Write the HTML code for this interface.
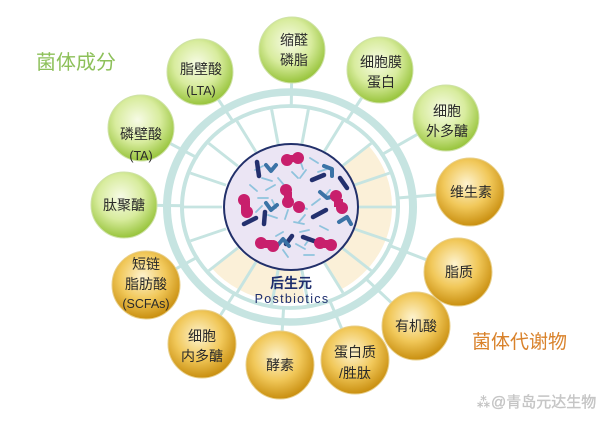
<!DOCTYPE html>
<html><head><meta charset="utf-8"><style>
html,body{margin:0;padding:0;background:#fff;}
svg{display:block;}
text{font-family:"Liberation Sans","Noto Sans CJK SC",sans-serif;}
</style></head><body>
<svg width="600" height="422" viewBox="0 0 600 422" xmlns="http://www.w3.org/2000/svg">
<defs>
<radialGradient id="gg" cx="45%" cy="38%" r="62%">
<stop offset="0" stop-color="#f7fbe6"/><stop offset="0.55" stop-color="#d8ec9e"/><stop offset="1" stop-color="#98c43c"/>
</radialGradient>
<radialGradient id="og" cx="45%" cy="38%" r="62%">
<stop offset="0" stop-color="#fdf3cf"/><stop offset="0.55" stop-color="#f1c85a"/><stop offset="1" stop-color="#c98f10"/>
</radialGradient>
</defs>
<rect width="600" height="422" fill="#fff"/>
<g stroke="#c6e4e1" stroke-width="3">
<line x1="290" y1="207" x2="292" y2="50"/>
<line x1="290" y1="207" x2="200" y2="72"/>
<line x1="290" y1="207" x2="380" y2="70"/>
<line x1="290" y1="207" x2="446" y2="118"/>
<line x1="290" y1="207" x2="141" y2="128"/>
<line x1="290" y1="207" x2="124" y2="205"/>
<line x1="290" y1="207" x2="470" y2="192"/>
<line x1="290" y1="207" x2="458" y2="272"/>
<line x1="290" y1="207" x2="416" y2="326"/>
<line x1="290" y1="207" x2="355" y2="360"/>
<line x1="290" y1="207" x2="280" y2="365"/>
<line x1="290" y1="207" x2="202" y2="344"/>
<line x1="290" y1="207" x2="146" y2="285"/>
</g>
<g transform="translate(290,207) scale(1,0.935)">
<circle r="106" fill="#fff"/>
<circle r="108" fill="none" stroke="#c6e4e1" stroke-width="4"/>
<circle r="123" fill="none" stroke="#c6e4e1" stroke-width="8"/>
<g fill="#fbf0d8">
<path d="M78.4,-65.8 A102,102 0 0 1 102,0 L68,0 A68,68 0 0 0 52.1,-43.7Z"/>
<path d="M102,0 A102,102 0 0 1 51,88.3 L34,58.9 A68,68 0 0 0 68,0Z"/>
<path d="M-17.7,100.5 A102,102 0 0 1 -78.1,65.6 L-52.1,43.7 A68,68 0 0 0 -11.8,67Z"/>
<path d="M-17.7,100.5 A102,102 0 0 0 15,100.9 L10,67.3 A68,68 0 0 0 -11.8,67Z"/>
</g>
<g stroke="#c6e4e1" stroke-width="3">
<line x1="68" y1="0" x2="106" y2="0"/>
<line x1="63.9" y1="23.3" x2="99.6" y2="36.3"/>
<line x1="52.1" y1="43.7" x2="81.2" y2="68.1"/>
<line x1="34" y1="58.9" x2="53" y2="91.8"/>
<line x1="11.8" y1="67" x2="18.4" y2="104.4"/>
<line x1="-11.8" y1="67" x2="-18.4" y2="104.4"/>
<line x1="-34" y1="58.9" x2="-53" y2="91.8"/>
<line x1="-52.1" y1="43.7" x2="-81.2" y2="68.1"/>
<line x1="-63.9" y1="23.3" x2="-99.6" y2="36.3"/>
<line x1="-68" y1="0" x2="-106" y2="0"/>
<line x1="-63.9" y1="-23.3" x2="-99.6" y2="-36.3"/>
<line x1="-52.1" y1="-43.7" x2="-81.2" y2="-68.1"/>
<line x1="-34" y1="-58.9" x2="-53" y2="-91.8"/>
<line x1="-11.8" y1="-67" x2="-18.4" y2="-104.4"/>
<line x1="11.8" y1="-67" x2="18.4" y2="-104.4"/>
<line x1="34" y1="-58.9" x2="53" y2="-91.8"/>
<line x1="52.1" y1="-43.7" x2="81.2" y2="-68.1"/>
<line x1="63.9" y1="-23.3" x2="99.6" y2="-36.3"/>
</g>
</g>
<ellipse cx="291" cy="207" rx="67" ry="63" fill="#ebe5f4" stroke="#22306a" stroke-width="2"/>
<g stroke="#8fc3dd" stroke-width="1.8" stroke-linecap="round">
<path d="M255 170l8 -4M262 178l10 3M250 185l7 6M266 190l9 -5M258 198l10 0M272 200l4 8M300 160l3 9M310 158l8 5M306 170l-6 8M318 172l9 -3M292 172l6 6M298 205l9 4M305 215l-6 7M312 205l8 -6M294 222l10 2M288 210l-3 9M300 232l9 -2M310 238l-5 7M296 244l9 5M320 226l8 4M276 236l7 -4M268 215l9 3M322 246l8 -3M283 250l5 7M304 255l10 0M262 206l-6 6M278 178l6 7M330 190l-5 6"/>
</g>
<g stroke="#23306e" stroke-width="4.5" stroke-linecap="round" fill="none">
<line x1="257" y1="162" x2="259" y2="176"/>
<line x1="312" y1="180" x2="324" y2="175"/>
<line x1="340" y1="178" x2="347" y2="188"/>
<line x1="244" y1="224" x2="256" y2="218"/>
<line x1="265" y1="212" x2="264" y2="224"/>
<line x1="313" y1="217" x2="326" y2="210"/>
<line x1="303" y1="237" x2="314" y2="241"/>
<line x1="292" y1="236" x2="286" y2="244"/>
</g>
<g stroke="#3b73a6" stroke-width="4" stroke-linecap="round" stroke-linejoin="round" fill="none">
<path d="M266 165l5 6 5 -6"/>
<path d="M324 166l8 3 0 7"/>
<path d="M320 192l7 6 8 -2"/>
<path d="M266 203l5 7 6 -5"/>
<path d="M339 222l8 -5 4 7"/>
<path d="M277 246l6 -7 6 7"/>
</g>
<g fill="#c81f6c">
<circle cx="287" cy="160" r="6"/><circle cx="298" cy="158" r="6"/><rect x="287" y="155" width="11" height="7"/>
<circle cx="244" cy="200" r="6"/><circle cx="247" cy="212" r="6"/><rect x="241" y="201" width="9" height="10"/>
<circle cx="286" cy="190" r="6"/><circle cx="288" cy="202" r="6"/><circle cx="299" cy="207" r="6"/><rect x="284" y="192" width="8" height="10"/>
<circle cx="336" cy="196" r="6"/><circle cx="342" cy="208" r="6"/><rect x="334" y="199" width="9" height="8"/>
<circle cx="261" cy="243" r="6"/><circle cx="273" cy="246" r="6"/><rect x="262" y="240" width="10" height="8"/>
<circle cx="320" cy="243" r="6"/><circle cx="331" cy="245" r="6"/><rect x="320" y="240" width="11" height="8"/>
</g>
<text x="291" y="288" text-anchor="middle" font-size="14" font-weight="bold" fill="#1f2f6e">后生元</text>
<text x="292" y="303" text-anchor="middle" font-size="12.5" letter-spacing="1.3" fill="#1f2f6e">Postbiotics</text>
<g stroke="#cfe2a8" stroke-width="1">
<circle cx="292" cy="50" r="33" fill="url(#gg)"/>
<circle cx="200" cy="72" r="33" fill="url(#gg)"/>
<circle cx="380" cy="70" r="33" fill="url(#gg)"/>
<circle cx="446" cy="118" r="33" fill="url(#gg)"/>
<circle cx="141" cy="128" r="33" fill="url(#gg)"/>
<circle cx="124" cy="205" r="33" fill="url(#gg)"/>
</g>
<g stroke="#e8cf8a" stroke-width="1">
<circle cx="470" cy="192" r="34" fill="url(#og)"/>
<circle cx="458" cy="272" r="34" fill="url(#og)"/>
<circle cx="416" cy="326" r="34" fill="url(#og)"/>
<circle cx="355" cy="360" r="34" fill="url(#og)"/>
<circle cx="280" cy="365" r="34" fill="url(#og)"/>
<circle cx="202" cy="344" r="34" fill="url(#og)"/>
<circle cx="146" cy="285" r="34" fill="url(#og)"/>
</g>
<g font-size="14" fill="#2a2a2a" text-anchor="middle">
<text x="294" y="45">缩醛</text><text x="294" y="65">磷脂</text>
<text x="201" y="74">脂壁酸</text><text x="201" y="95" font-size="12.5">(LTA)</text>
<text x="381" y="67">细胞膜</text><text x="381" y="87">蛋白</text>
<text x="447" y="116">细胞</text><text x="447" y="136">外多醣</text>
<text x="141" y="139">磷壁酸</text><text x="141" y="160" font-size="12.5">(TA)</text>
<text x="124" y="210">肽聚醣</text>
<text x="471" y="197">维生素</text>
<text x="459" y="277">脂质</text>
<text x="416" y="331">有机酸</text>
<text x="355" y="357">蛋白质</text><text x="355" y="378">/胜肽</text>
<text x="280" y="370">酵素</text>
<text x="202" y="341">细胞</text><text x="202" y="361">内多醣</text>
<text x="146" y="269">短链</text><text x="146" y="289">脂肪酸</text><text x="146" y="308" font-size="12.5">(SCFAs)</text>
</g>
<text x="36" y="69" font-size="20" fill="#8dc05a">菌体成分</text>
<text x="472" y="348" font-size="19" fill="#d9822b">菌体代谢物</text>
<text x="476" y="407" font-size="15" fill="#c8c8c8" stroke="#bbb" stroke-width="0.3">⁂@青岛元达生物</text>
</svg>
</body></html>
